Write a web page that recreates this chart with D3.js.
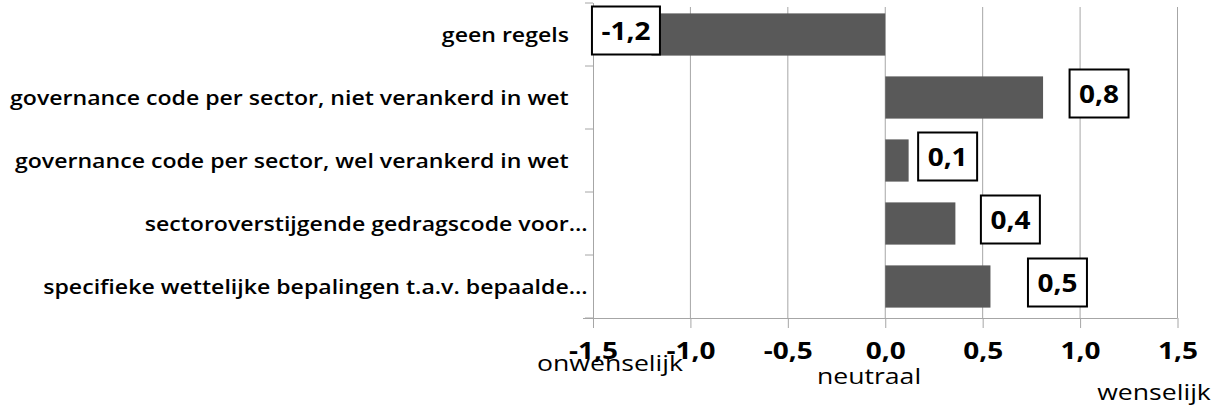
<!DOCTYPE html>
<html><head><meta charset="utf-8">
<script src="https://cdn.jsdelivr.net/npm/d3@7"></script>
<style>
html,body{margin:0;padding:0;background:#fff;}
svg{display:block;}
text{font-family:"Open Sans",sans-serif;}
</style></head>
<body>
<script>
const categories = [
  "geen regels",
  "governance code per sector, niet verankerd in wet",
  "governance code per sector, wel verankerd in wet",
  "sectoroverstijgende gedragscode voor…",
  "specifieke wettelijke bepalingen t.a.v. bepaalde…"
];
const values = [-1.2, 0.81, 0.12, 0.36, 0.54];
const tickValues = [-1.5, -1.0, -0.5, 0.0, 0.5, 1.0, 1.5];
const axisNotes = ["onwenselijk", "neutraal", "wenselijk"];

// layout (pixels), not data
const labelDx = [-25.5, 56, 39, 55, 67];
const W = 1223, H = 414;
const M = {left: 593, right: 1177.5, top: 3, bottom: 318};
const catRight = 569;

const fmt = v => d3.format(".1f")(v).replace(".", ",").replace("−", "-");

const svg = d3.select("body").append("svg").attr("width", W).attr("height", H);

const x = d3.scaleLinear().domain([-1.5, 1.5]).range([M.left, M.right]);
const y = d3.scaleBand().domain(categories).range([M.top, M.bottom]).paddingInner(0.33).paddingOuter(0.165);
const yb = d3.scaleBand().domain(categories).range([M.top, M.bottom]);

function measure(size, weight, str) {
  const probe = svg.append("text").attr("font-size", size).attr("font-weight", weight).text(str);
  const w = probe.node().getComputedTextLength();
  probe.remove();
  return w;
}

// gridlines
svg.append("g").selectAll("line").data(tickValues.slice(1)).join("line")
  .attr("x1", d => x(d)).attr("x2", d => x(d))
  .attr("y1", 7).attr("y2", M.bottom)
  .attr("stroke", "#a6a6a6").attr("stroke-width", 1);

// bars
svg.append("g").selectAll("rect").data(values).join("rect")
  .attr("x", d => Math.min(x(0), x(d)))
  .attr("width", d => Math.abs(x(d) - x(0)))
  .attr("y", (d, i) => y(categories[i]))
  .attr("height", y.bandwidth())
  .attr("fill", "#595959");

// x axis
const xAxis = svg.append("g").attr("transform", `translate(0,${M.bottom})`)
  .call(d3.axisBottom(x).tickValues(tickValues).tickSize(10).tickFormat(fmt));
xAxis.select(".domain").attr("stroke", "#a6a6a6").attr("d", `M${M.left - 10},0.5H${M.right}`);
xAxis.selectAll(".tick line").attr("stroke", "#a6a6a6");
{
  const k = 49 / measure(24, "bold", "-1,5");
  xAxis.selectAll(".tick text").attr("dy", 0).attr("x", 0).attr("y", 0)
    .attr("font-size", 24).attr("font-weight", "bold").attr("fill", "#000")
    .style("font-family", '"Open Sans",sans-serif')
    .attr("transform", `translate(0,41) scale(${k},1)`);
}

// y axis
svg.append("line").attr("x1", M.left + 0.5).attr("x2", M.left + 0.5)
  .attr("y1", M.top).attr("y2", M.bottom).attr("stroke", "#a6a6a6");
svg.append("g").selectAll("line").data(d3.range(categories.length + 1)).join("line")
  .attr("x1", M.left - 8).attr("x2", M.left)
  .attr("y1", i => M.top + i * yb.step()).attr("y2", i => M.top + i * yb.step())
  .attr("stroke", "#a6a6a6");

// category labels (text before an ellipsis ends at catRight; the ellipsis hangs past it)
{
  const cs = 20, cw = 600;
  const k = 559 / measure(cs, cw, categories[1]);
  svg.append("g").selectAll("text").data(categories).join("text")
    .attr("dy", "0.35em").attr("font-size", cs).attr("font-weight", cw).attr("fill", "#000")
    .text(d => d)
    .attr("transform", d => {
      const main = d.endsWith("…") ? d.slice(0, -1) : d;
      const w = measure(cs, cw, main) * k;
      return `translate(${catRight - w},${yb(d) + yb.bandwidth() / 2}) scale(${k},1)`;
    });
}

// value label boxes
const lab = svg.append("g").selectAll("g").data(values).join("g")
  .attr("transform", (d, i) => `translate(${x(d) + labelDx[i]},${yb(categories[i]) + yb.bandwidth() / 2 - 4})`);
{
  const k = 40 / measure(25, "bold", "0,8");
  lab.append("text").attr("text-anchor", "middle").attr("dy", "0.36em")
    .attr("font-size", 25).attr("font-weight", "bold").attr("fill", "#000")
    .attr("transform", `scale(${k},1)`)
    .text(d => fmt(d));
  lab.each(function() {
    const g = d3.select(this);
    const w = g.select("text").node().getComputedTextLength() * k + 19, h = 48;
    g.insert("rect", "text").attr("x", -w / 2).attr("y", -h / 2).attr("width", w).attr("height", h)
      .attr("fill", "#fff").attr("stroke", "#000").attr("stroke-width", 2);
  });
}

// axis notes
const notePos = [[610, 371], [869, 384], [1154, 400]];
{
  const k = 146 / measure(21, "normal", "onwenselijk");
  svg.append("g").selectAll("text").data(axisNotes).join("text")
    .attr("text-anchor", "middle").attr("font-size", 21).attr("fill", "#000")
    .attr("transform", (d, i) => `translate(${notePos[i][0]},${notePos[i][1]}) scale(${k},1)`)
    .text(d => d);
}
</script>
</body></html>
